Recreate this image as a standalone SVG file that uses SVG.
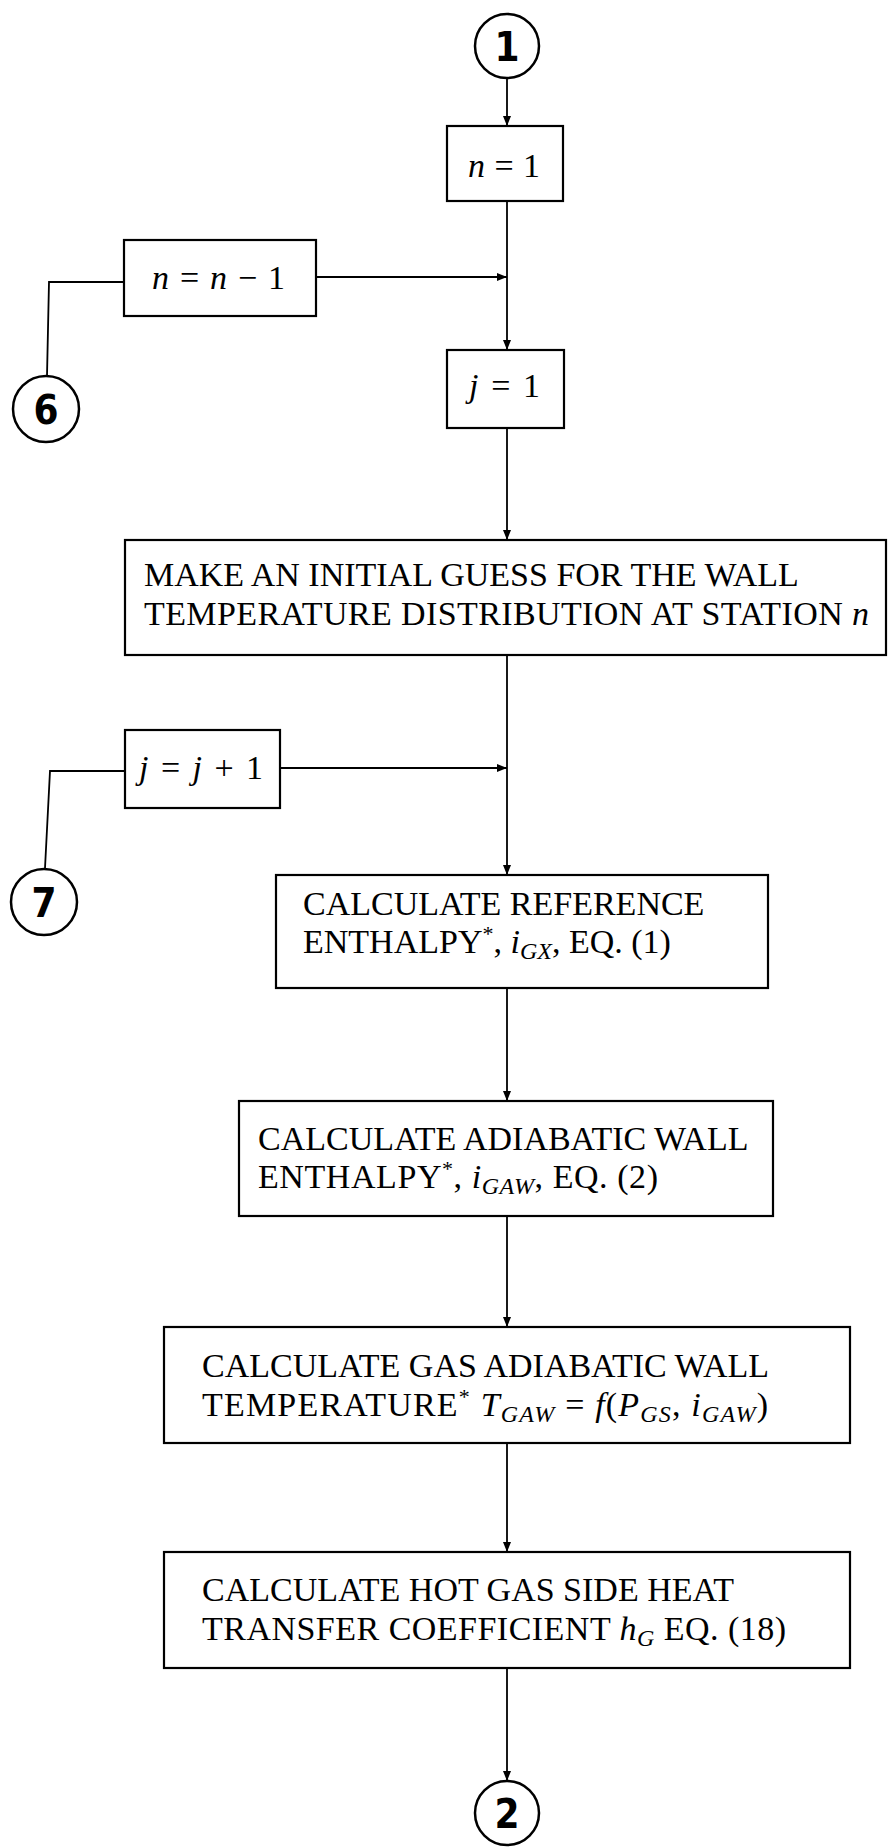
<svg xmlns="http://www.w3.org/2000/svg" width="888" height="1847" viewBox="0 0 888 1847">
<style>
.box{fill:#fff;stroke:#000;stroke-width:2.2}
.circ{fill:#fff;stroke:#000;stroke-width:2.5}
.num{font-family:"DejaVu Sans Condensed","DejaVu Sans","Liberation Sans",sans-serif;font-weight:bold;font-size:40px;text-anchor:middle;fill:#000}
.t{font-family:"Liberation Serif","DejaVu Serif",serif;font-size:34px;fill:#000}
.m{font-family:"Liberation Serif","DejaVu Serif",serif;font-size:34px;fill:#000}
.i{font-style:italic}
.sub{font-style:italic;font-size:24px}
.sup{font-size:22px}
.ln{fill:none;stroke:#000;stroke-width:1.8}
</style>
<defs>
<marker id="ah" markerWidth="10" markerHeight="8" refX="10" refY="4" orient="auto" markerUnits="userSpaceOnUse">
<path d="M0,0 L10,4 L0,8 Z" fill="#000"/>
</marker>
</defs>
<g id="connectors">
<line class="ln" x1="507" y1="78" x2="507" y2="126" marker-end="url(#ah)"/>
<line class="ln" x1="507" y1="201" x2="507" y2="350" marker-end="url(#ah)"/>
<line class="ln" x1="316" y1="277" x2="507" y2="277" marker-end="url(#ah)"/>
<polyline class="ln" points="47,376 49,282 124,282"/>
<line class="ln" x1="507" y1="428" x2="507" y2="540" marker-end="url(#ah)"/>
<line class="ln" x1="507" y1="655" x2="507" y2="875" marker-end="url(#ah)"/>
<line class="ln" x1="280" y1="768" x2="507" y2="768" marker-end="url(#ah)"/>
<polyline class="ln" points="45,868 50,771 125,771"/>
<line class="ln" x1="507" y1="988" x2="507" y2="1101" marker-end="url(#ah)"/>
<line class="ln" x1="507" y1="1216" x2="507" y2="1327" marker-end="url(#ah)"/>
<line class="ln" x1="507" y1="1443" x2="507" y2="1552" marker-end="url(#ah)"/>
<line class="ln" x1="507" y1="1668" x2="507" y2="1781" marker-end="url(#ah)"/>
</g>
<g id="c1">
<circle class="circ" cx="507" cy="46" r="32"/>
<text class="num" x="507" y="61">1</text>
</g>
<g id="n1">
<rect class="box" x="447" y="126" width="116" height="75"/>
<text class="m" x="468" y="177" textLength="72" lengthAdjust="spacing"><tspan class="i">n</tspan> = 1</text>
</g>
<g id="nminus1">
<rect class="box" x="124" y="240" width="192" height="76"/>
<text class="m" x="152" y="289" textLength="133" lengthAdjust="spacing"><tspan class="i">n</tspan> = <tspan class="i">n</tspan> − 1</text>
</g>
<g id="c6">
<circle class="circ" cx="46" cy="409" r="33"/>
<text class="num" x="46" y="424">6</text>
</g>
<g id="j1">
<rect class="box" x="447" y="350" width="117" height="78"/>
<text class="m" x="469" y="397" textLength="71" lengthAdjust="spacing"><tspan class="i">j</tspan> = 1</text>
</g>
<g id="guess">
<rect class="box" x="125" y="540" width="761" height="115"/>
<text class="t" x="144" y="586">MAKE AN INITIAL GUESS FOR THE WALL</text>
<text class="t" x="144" y="625" textLength="725" lengthAdjust="spacing">TEMPERATURE DISTRIBUTION AT STATION <tspan class="i">n</tspan></text>
</g>
<g id="jplus1">
<rect class="box" x="125" y="730" width="155" height="78"/>
<text class="m" x="139" y="779" textLength="124" lengthAdjust="spacing"><tspan class="i">j</tspan> = <tspan class="i">j</tspan> + 1</text>
</g>
<g id="c7">
<circle class="circ" cx="44" cy="902" r="33"/>
<text class="num" x="44" y="917">7</text>
</g>
<g id="refenth">
<rect class="box" x="276" y="875" width="492" height="113"/>
<text class="t" x="303" y="915">CALCULATE REFERENCE</text>
<text class="t" x="303" y="953">ENTHALPY<tspan class="sup" dy="-12">*</tspan><tspan dy="12">, </tspan><tspan class="i">i</tspan><tspan class="sub" dy="6">GX</tspan><tspan dy="-6">, EQ. (1)</tspan></text>
</g>
<g id="adiab">
<rect class="box" x="239" y="1101" width="534" height="115"/>
<text class="t" x="258" y="1150">CALCULATE ADIABATIC WALL</text>
<text class="t" x="258" y="1188" textLength="400" lengthAdjust="spacing">ENTHALPY<tspan class="sup" dy="-12">*</tspan><tspan dy="12">, </tspan><tspan class="i">i</tspan><tspan class="sub" dy="6">GAW</tspan><tspan dy="-6">, EQ. (2)</tspan></text>
</g>
<g id="gastemp">
<rect class="box" x="164" y="1327" width="686" height="116"/>
<text class="t" x="202" y="1377">CALCULATE GAS ADIABATIC WALL</text>
<text class="t" x="202" y="1416" textLength="566" lengthAdjust="spacing">TEMPERATURE<tspan class="sup" dy="-12">*</tspan><tspan dy="12"> </tspan><tspan class="i">T</tspan><tspan class="sub" dy="6">GAW</tspan><tspan dy="-6"> = </tspan><tspan class="i">f</tspan>(<tspan class="i">P</tspan><tspan class="sub" dy="6">GS</tspan><tspan dy="-6">, </tspan><tspan class="i">i</tspan><tspan class="sub" dy="6">GAW</tspan><tspan dy="-6">)</tspan></text>
</g>
<g id="hotgas">
<rect class="box" x="164" y="1552" width="686" height="116"/>
<text class="t" x="202" y="1601">CALCULATE HOT GAS SIDE HEAT</text>
<text class="t" x="202" y="1640" textLength="584" lengthAdjust="spacing">TRANSFER COEFFICIENT <tspan class="i">h</tspan><tspan class="sub" dy="6">G</tspan><tspan dy="-6"> EQ. (18)</tspan></text>
</g>
<g id="c2">
<circle class="circ" cx="507" cy="1813" r="32"/>
<text class="num" x="507" y="1828">2</text>
</g>
</svg>
